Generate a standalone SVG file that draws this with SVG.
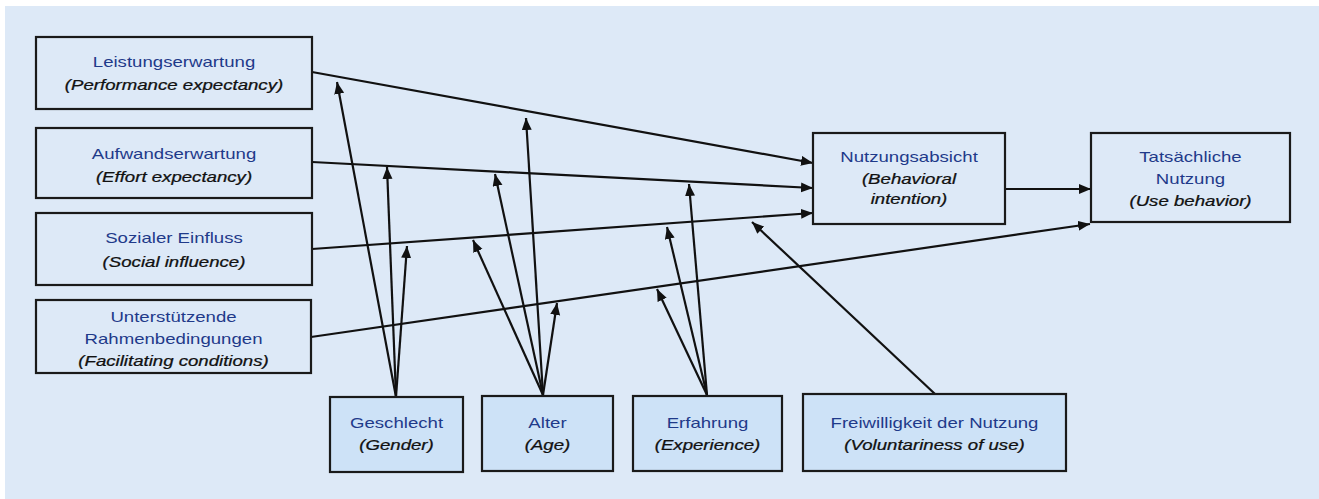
<svg xmlns="http://www.w3.org/2000/svg" width="1319" height="499" viewBox="0 0 1319 499">
<style>
.bg{fill:#ffffff}
.panel{fill:#dde9f7}
.box{fill:#dde9f7;stroke:#1a1a1a;stroke-width:2.2}
.mbox{fill:#cde2f7;stroke:#1a1a1a;stroke-width:2.2}
.t{font-family:"Liberation Sans",Arial,sans-serif;font-size:14px;fill:#1f3a8a;text-anchor:middle}
.s{font-family:"Liberation Sans",Arial,sans-serif;font-size:14px;font-style:italic;fill:#111111;text-anchor:middle;stroke:#111111;stroke-width:0.25}
.c{stroke:#111111;stroke-width:2.2;fill:none;marker-end:url(#ah)}
</style>
<defs>
<marker id="ah" markerUnits="userSpaceOnUse" markerWidth="13" markerHeight="11" refX="12" refY="5" orient="auto">
<path d="M0,0 L12,5 L0,10 z" fill="#111111"/>
</marker>
</defs>
<rect class="bg" x="0" y="0" width="1319" height="499"/>
<rect class="panel" x="5" y="6" width="1314" height="493"/>

<g id="connectors">
<line class="c" x1="312" y1="72" x2="813" y2="163"/>
<line class="c" x1="312" y1="162" x2="813" y2="188"/>
<line class="c" x1="312" y1="249" x2="813" y2="213"/>
<line class="c" x1="311" y1="337" x2="1090" y2="224"/>
<line class="c" x1="1005" y1="189" x2="1091" y2="189"/>
<line class="c" x1="396" y1="397" x2="337" y2="82"/>
<line class="c" x1="396" y1="397" x2="387" y2="167"/>
<line class="c" x1="396" y1="397" x2="407" y2="246"/>
<line class="c" x1="543" y1="395" x2="526" y2="118"/>
<line class="c" x1="543" y1="395" x2="495" y2="174"/>
<line class="c" x1="543" y1="395" x2="473" y2="240"/>
<line class="c" x1="543" y1="395" x2="557" y2="303"/>
<line class="c" x1="707" y1="395" x2="689" y2="184"/>
<line class="c" x1="707" y1="395" x2="667" y2="227"/>
<line class="c" x1="707" y1="395" x2="657" y2="289"/>
<line class="c" x1="935" y1="394" x2="752" y2="222"/>
</g>

<g id="leistung">
<rect class="box" x="36" y="37" width="276" height="72"/>
<text class="t" transform="translate(174,67) scale(1.33,1)">Leistungserwartung</text>
<text class="s" transform="translate(174,90) scale(1.33,1)">(Performance expectancy)</text>
</g>
<g id="aufwand">
<rect class="box" x="36" y="128" width="276" height="70"/>
<text class="t" transform="translate(174,159) scale(1.33,1)">Aufwandserwartung</text>
<text class="s" transform="translate(174,182) scale(1.33,1)">(Effort expectancy)</text>
</g>
<g id="sozial">
<rect class="box" x="36" y="213" width="276" height="72"/>
<text class="t" transform="translate(174,243) scale(1.33,1)">Sozialer Einfluss</text>
<text class="s" transform="translate(174,267) scale(1.33,1)">(Social influence)</text>
</g>
<g id="unterstuetzend">
<rect class="box" x="36" y="300" width="275" height="73"/>
<text class="t" transform="translate(173.5,322) scale(1.33,1)">Unterstützende</text>
<text class="t" transform="translate(173.5,344) scale(1.33,1)">Rahmenbedingungen</text>
<text class="s" transform="translate(173.5,366) scale(1.33,1)">(Facilitating conditions)</text>
</g>
<g id="nutzungsabsicht">
<rect class="box" x="813" y="133" width="192" height="91"/>
<text class="t" transform="translate(909,162) scale(1.33,1)">Nutzungsabsicht</text>
<text class="s" transform="translate(909,184) scale(1.33,1)">(Behavioral</text>
<text class="s" transform="translate(909,204) scale(1.33,1)">intention)</text>
</g>
<g id="nutzung">
<rect class="box" x="1091" y="133" width="199" height="89"/>
<text class="t" transform="translate(1190.5,162) scale(1.33,1)">Tatsächliche</text>
<text class="t" transform="translate(1190.5,184) scale(1.33,1)">Nutzung</text>
<text class="s" transform="translate(1190.5,206) scale(1.33,1)">(Use behavior)</text>
</g>
<g id="geschlecht">
<rect class="mbox" x="330" y="397" width="133" height="75"/>
<text class="t" transform="translate(396.5,428) scale(1.33,1)">Geschlecht</text>
<text class="s" transform="translate(396.5,450) scale(1.33,1)">(Gender)</text>
</g>
<g id="alter">
<rect class="mbox" x="482" y="396" width="131" height="75"/>
<text class="t" transform="translate(547.5,428) scale(1.33,1)">Alter</text>
<text class="s" transform="translate(547.5,450) scale(1.33,1)">(Age)</text>
</g>
<g id="erfahrung">
<rect class="mbox" x="633" y="396" width="149" height="75"/>
<text class="t" transform="translate(707.5,428) scale(1.33,1)">Erfahrung</text>
<text class="s" transform="translate(707.5,450) scale(1.33,1)">(Experience)</text>
</g>
<g id="freiwilligkeit">
<rect class="mbox" x="803" y="394" width="263" height="77"/>
<text class="t" transform="translate(934.5,428) scale(1.33,1)">Freiwilligkeit der Nutzung</text>
<text class="s" transform="translate(934.5,450) scale(1.33,1)">(Voluntariness of use)</text>
</g>
</svg>
